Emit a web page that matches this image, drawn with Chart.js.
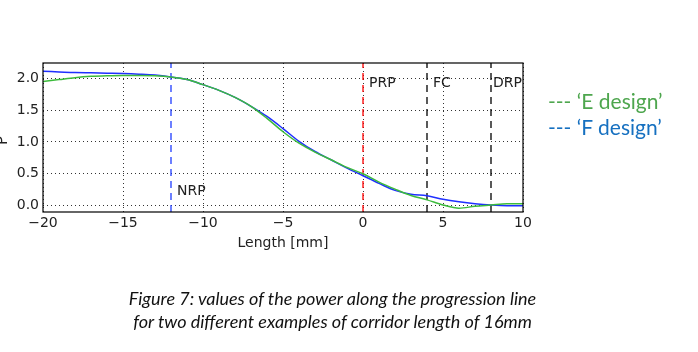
<!DOCTYPE html>
<html lang="en">
  <head>
    <meta charset="UTF-8">
    <title>Power along the progression line</title>
    <script src="https://cdn.jsdelivr.net/npm/chart.js@4"></script>
    <style>
      body { margin: 0; background: #fff; }
      #wrap { position: relative; width: 698px; height: 352px; }
      .legend { position: absolute; left: 548px; font-family: Lato, "Open Sans", sans-serif; font-size: 21px; line-height: 1; white-space: pre; }
      .caption { position: absolute; left: 0; width: 665px; text-align: center; font-family: Lato, "Open Sans", sans-serif; font-style: italic; font-size: 18px; color: #111; }
    </style>
  </head>
  <body>
    <div id="wrap">
      <canvas id="chart" width="698" height="352"></canvas>
      <div class="legend" style="top: 90px; color: #4ea64e">--- ‘E design’</div>
      <div class="legend" style="top: 116px; color: #1670c0">--- ‘F design’</div>
      <div class="caption" style="top: 287px">Figure 7: values of the power along the progression line</div>
      <div class="caption" style="top: 310px">for two different examples of corridor length of 16mm</div>
    </div>
    <script type="text/javascript">
      const lengths = [-20, -19, -18, -17, -16, -15, -14, -13, -12, -11, -10, -9, -8, -7, -6, -5,
                       -4, -3, -2, -1, 0, 1, 2, 3, 4, 5, 6, 7, 8, 9, 10]
      const eDesign = [1.95, 1.98, 2.01, 2.03, 2.04, 2.045, 2.045, 2.04, 2.02, 1.98, 1.90, 1.81, 1.70, 1.56, 1.37, 1.16,
                       0.98, 0.84, 0.72, 0.60, 0.50, 0.37, 0.26, 0.16, 0.09, 0.01, -0.04, -0.01, 0.01, 0.03, 0.03]
      const fDesign = [2.11, 2.10, 2.09, 2.085, 2.08, 2.075, 2.065, 2.05, 2.02, 1.98, 1.90, 1.81, 1.70, 1.56, 1.40, 1.21,
                       1.01, 0.85, 0.72, 0.59, 0.47, 0.35, 0.24, 0.18, 0.155, 0.10, 0.06, 0.03, 0.01, 0.0, 0.0]
      const markerNames = ['NRP', 'PRP', 'FC', 'DRP']
      const markerX = [-12, 0, 4, 8]
      const markerColors = ['#1f3cff', '#ff0000', '#000000', '#000000']
      const markerLabelY = [0.22, 1.92, 1.92, 1.92]
      const xTicks = [-20, -15, -10, -5, 0, 5, 10]
      const yTicks = [0.0, 0.5, 1.0, 1.5, 2.0]
      const yMin = -0.1, yMax = 2.24

      const pts = ys => lengths.map((x, i) => ({ x: x, y: ys[i] }))

      const markerSets = markerX.map((x, i) => ({
        label: markerNames[i],
        data: [{ x: x, y: yMin }, { x: x, y: yMax }],
        borderColor: markerColors[i],
        borderWidth: 1.3,
        borderDash: [7, 5],
        pointRadius: 0,
        order: 3
      }))

      const tickFont = { family: 'DejaVu Sans', size: 14 }

      const extras = {
        id: 'extras',
        afterDraw(chart) {
          const ctx = chart.ctx
          const a = chart.chartArea
          const xs = chart.scales.x, ys = chart.scales.y
          ctx.save()
          ctx.strokeStyle = '#000'
          ctx.lineWidth = 1.2
          ctx.strokeRect(a.left, a.top, a.right - a.left, a.bottom - a.top)
          ctx.fillStyle = '#222'
          ctx.font = '14px "DejaVu Sans"'
          ctx.textBaseline = 'middle'
          markerNames.forEach((name, i) => {
            const off = name === 'DRP' ? 2 : 6
            ctx.fillText(name, xs.getPixelForValue(markerX[i]) + off, ys.getPixelForValue(markerLabelY[i]))
          })
          // y axis title, partly cut off at the left edge
          ctx.translate(3, (a.top + a.bottom) / 2 + 3)
          ctx.rotate(-Math.PI / 2)
          ctx.textAlign = 'center'
          ctx.font = '15px "DejaVu Sans"'
          ctx.fillText('P', 0, 0)
          ctx.restore()
        }
      }

      new Chart(document.getElementById('chart').getContext('2d'), {
        type: 'line',
        data: {
          datasets: [
            {
              label: 'F design',
              data: pts(fDesign),
              borderColor: '#1f2fff',
              borderWidth: 1.5,
              pointRadius: 0,
              cubicInterpolationMode: 'monotone',
              order: 2
            },
            {
              label: 'E design',
              data: pts(eDesign),
              borderColor: '#3cbb3c',
              borderWidth: 1.5,
              pointRadius: 0,
              cubicInterpolationMode: 'monotone',
              order: 1
            }
          ].concat(markerSets)
        },
        options: {
          responsive: false,
          animation: false,
          layout: { padding: { top: 63, right: 175, bottom: 100, left: 0 } },
          plugins: { legend: { display: false }, tooltip: { enabled: false } },
          scales: {
            x: {
              type: 'linear',
              min: -20,
              max: 10,
              afterBuildTicks: s => { s.ticks = xTicks.map(v => ({ value: v })) },
              afterFit: s => { s.height = 40 },
              ticks: { font: tickFont, color: '#222', padding: 3, maxRotation: 0,
                       callback: v => v < 0 ? '\u2212' + Math.abs(v) : String(v) },
              grid: { color: '#333', lineWidth: 1, drawTicks: false },
              border: { display: false, dash: [1, 3] },
              title: { display: true, text: 'Length [mm]', font: { family: 'DejaVu Sans', size: 14 }, color: '#222', padding: 0 }
            },
            y: {
              min: yMin,
              max: yMax,
              afterBuildTicks: s => { s.ticks = yTicks.map(v => ({ value: v })) },
              afterFit: s => { s.width = 43 },
              ticks: { font: tickFont, color: '#222', padding: 4, callback: v => v.toFixed(1) },
              grid: { color: '#333', lineWidth: 1, drawTicks: false },
              border: { display: false, dash: [1, 3] }
            }
          }
        },
        plugins: [extras]
      })
    </script>
  </body>
</html>
